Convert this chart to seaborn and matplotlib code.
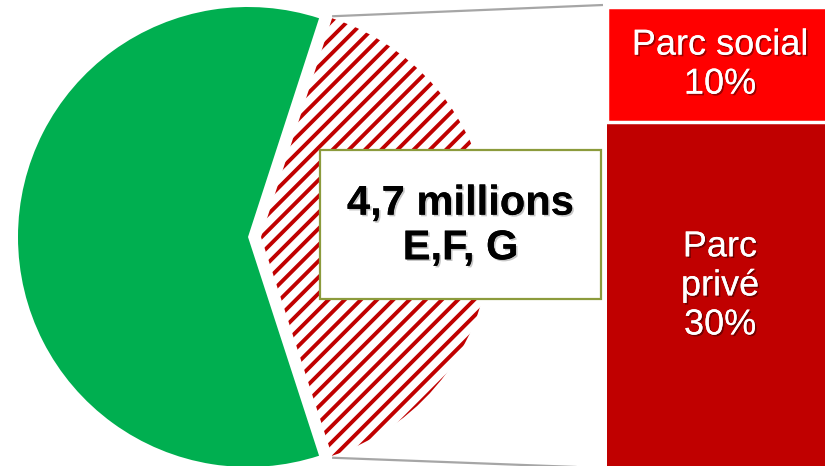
import matplotlib
matplotlib.use("Agg")
import matplotlib.pyplot as plt
import matplotlib.patches as mpatches
import matplotlib.patheffects as pe
from matplotlib.collections import LineCollection
import numpy as np
import seaborn as sns

# Share of dwellings by energy-label group (%)
pie_groups = ["Classes A à D", "Classes E, F, G"]
pie_shares = [60, 40]

# Split of the E, F, G group by housing stock (%)
stock_labels = ["Parc social", "Parc\nprivé"]
stock_shares = [10, 30]

box_text = "4,7 millions\nE,F, G"

GREEN = "#00AF50"
RED = "#FF0000"
DARK_RED = "#C00000"
GREY = "#A6A6A6"
OLIVE = "#8C9B3C"

sns.set_theme(style="white")
plt.rcParams["font.family"] = ["Liberation Sans", "DejaVu Sans"]

W, H = 825, 466
fig = plt.figure(figsize=(W / 100, H / 100), dpi=100)
fig.patch.set_facecolor("white")

# main canvas in pixel units (y grows downwards)
ax = fig.add_axes([0, 0, 1, 1])
centre = (248, 237)
radius = 230
shift = 13
wedges, _ = ax.pie(
    pie_shares,
    colors=[GREEN, "white"],
    startangle=72,
    explode=[0, shift],
    center=centre,
    radius=radius,
    frame=True,
    wedgeprops=dict(linewidth=0),
)

# diagonal stripes filling the exploded wedge
step = 16.2
consts = np.arange(531 - step * 40, 531 + step * 40, step)
segs = [[(c, 0), (c - H, H)] for c in consts]
stripes = LineCollection(segs, colors=DARK_RED, linewidths=2.8,
                         capstyle="butt", zorder=wedges[1].get_zorder() + 0.1)
ax.add_collection(stripes)
stripes.set_clip_path(wedges[1])

ax.set_aspect("auto")
ax.set_xlim(0, W)
ax.set_ylim(H, 0)
ax.axis("off")

# stacked bar for the breakdown
bar_left, bar_right, bar_top, bar_bottom = 607, 833, 7, 468
ax_bar = fig.add_axes([bar_left / W, (H - bar_bottom) / H,
                       (bar_right - bar_left) / W, (bar_bottom - bar_top) / H])
cum = np.cumsum(stock_shares)
sns.barplot(x=["stock"], y=[cum[-1]], color=DARK_RED, width=1,
            saturation=1, errorbar=None, ax=ax_bar, linewidth=0)
sns.barplot(x=["stock"], y=[cum[0]], color=RED, width=1,
            saturation=1, errorbar=None, ax=ax_bar,
            edgecolor="white", linewidth=2.5)
ax_bar.set_xlim(-0.5, 0.5)
ax_bar.set_ylim(cum[-1], 0)
ax_bar.axis("off")

shadow_w = [pe.withSimplePatchShadow(offset=(1.2, -1.2),
                                     shadow_rgbFace="black", alpha=0.4),
            pe.Normal()]
starts = np.concatenate([[0], cum[:-1]])
offsets = [0, -0.8]
for lab, share, s, off in zip(stock_labels, stock_shares, starts, offsets):
    ax_bar.text(0, s + share / 2 + off, f"{lab}\n{share}%", color="white",
                fontsize=26, ha="center", va="center", linespacing=1.15,
                path_effects=shadow_w)

# connector lines from the exploded wedge to the bar
half = np.deg2rad(360 * pie_shares[1] / 100 / 2)
cx = centre[0] + shift
for sign, yb in [(-1, bar_top - 2), (1, bar_bottom)]:
    px = cx + radius * np.cos(half)
    py = centre[1] + sign * radius * np.sin(half)
    ax.plot([px, bar_left - 4], [py + sign * 2, yb],
            color=GREY, lw=1.6, solid_capstyle="butt")

# label box
box = mpatches.Rectangle((320, 150), 281, 149, facecolor="white",
                         edgecolor=OLIVE, linewidth=1.6, zorder=5)
ax.add_patch(box)
shadow_k = [pe.withSimplePatchShadow(offset=(1.2, -1.2),
                                     shadow_rgbFace="black", alpha=0.22),
            pe.Normal()]
ax.text(320 + 281 / 2, 226, box_text, fontsize=30, fontweight="bold",
        color="black", ha="center", va="center", linespacing=1.15,
        zorder=6, path_effects=shadow_k)

fig.savefig("out.png", dpi=100, facecolor="white")
